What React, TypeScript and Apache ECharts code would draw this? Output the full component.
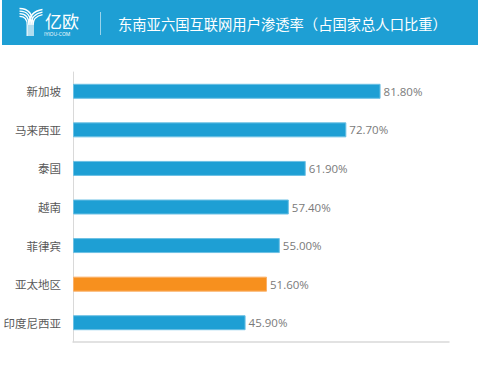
import React, { useEffect, useRef } from "react";
import * as echarts from "echarts";

const categories = ["新加坡", "马来西亚", "泰国", "越南", "菲律宾", "亚太地区", "印度尼西亚"];
const values = [81.8, 72.7, 61.9, 57.4, 55.0, 51.6, 45.9];
const highlight = ["亚太地区"];
const title = "东南亚六国互联网用户渗透率（占国家总人口比重）";

const BLUE = "#1E9FD4";
const ORANGE = "#F7901E";

function logoCurves() {
  const els: any[] = [];
  const stroke = { stroke: "#fff", lineWidth: 1.3, fill: "none" };
  const leftEnds = [33, 31, 29, 27.2];
  for (let i = 0; i < 4; i++) {
    const y0 = 8.5 + 2.6 * i;
    const xe = leftEnds[i];
    els.push({
      type: "bezierCurve",
      shape: { x1: 19.5, y1: y0, cpx1: xe, cpy1: y0, x2: xe, y2: 25 },
      style: stroke,
    });
  }
  const rightEnds = [29, 31, 33];
  for (let j = 0; j < 3; j++) {
    const y0 = 9.5 + 2.6 * j;
    const xe = rightEnds[j];
    els.push({
      type: "bezierCurve",
      shape: { x1: 42.5, y1: y0, cpx1: xe, cpy1: y0 + 2, x2: xe, y2: 25 },
      style: stroke,
    });
  }
  [27.2, 29, 31, 33].forEach((x) => {
    els.push({ type: "line", shape: { x1: x, y1: 25, x2: x, y2: 36 }, style: { stroke: "#fff", lineWidth: 1.3 } });
  });
  return els;
}

export default function App() {
  const ref = useRef<HTMLDivElement>(null);
  useEffect(() => {
    if (!ref.current) return;
    const chart = echarts.init(ref.current, undefined, { renderer: "svg" });
    const font = "'Noto Sans CJK SC', 'Noto Sans', sans-serif";
    const numFont = "'Open Sans', 'Noto Sans', sans-serif";
    chart.setOption({
      animation: false,
      backgroundColor: "#fff",
      textStyle: { fontFamily: font },
      graphic: [
        { type: "rect", shape: { x: 2, y: 0, width: 476, height: 45 }, style: { fill: BLUE } },
        ...logoCurves(),
        {
          type: "text",
          x: 45,
          y: 20,
          style: { text: "亿欧", fill: "#fff", font: `17px ${font}`, textVerticalAlign: "middle" },
        },
        {
          type: "text",
          x: 44,
          y: 34,
          style: { text: "IYIOU-COM", fill: "#fff", font: `5px ${numFont}`, textVerticalAlign: "middle" },
        },
        { type: "line", shape: { x1: 100.5, y1: 12, x2: 100.5, y2: 35 }, style: { stroke: "rgba(255,255,255,0.55)", lineWidth: 1 } },
        {
          type: "text",
          x: 118,
          y: 23,
          style: { text: title, fill: "#fff", font: `14.3px ${font}`, textVerticalAlign: "middle" },
        },
      ],
      grid: { left: 73, right: 30, top: 72, bottom: 37, containLabel: false },
      xAxis: {
        type: "value",
        min: 0,
        max: 100,
        axisLine: { show: true, lineStyle: { color: "#D9D9D9", width: 1.5 } },
        axisTick: { show: false },
        axisLabel: { show: false },
        splitLine: { show: false },
      },
      yAxis: {
        type: "category",
        data: categories,
        inverse: true,
        axisLine: { show: true, lineStyle: { color: "#D9D9D9", width: 1 } },
        axisTick: { show: false },
        axisLabel: { color: "#595959", fontSize: 11.5, margin: 12, fontFamily: font },
      },
      series: [
        {
          type: "bar",
          barWidth: 15,
          data: values.map((v, i) => ({
            value: v,
            itemStyle: {
              color: highlight.includes(categories[i]) ? ORANGE : BLUE,
              borderColor: highlight.includes(categories[i]) ? "#FBB067" : "#6CC0E4",
              borderWidth: 1,
            },
          })),
          label: {
            show: true,
            position: "right",
            distance: 3,
            color: "#7A7A7A",
            fontSize: 11.5,
            fontFamily: numFont,
            formatter: (p: any) => p.value.toFixed(2) + "%",
          },
        },
      ],
    });
    return () => chart.dispose();
  }, []);
  return <div ref={ref} style={{ position: "fixed", left: 0, top: 0, width: 479, height: 379 }} />;
}
